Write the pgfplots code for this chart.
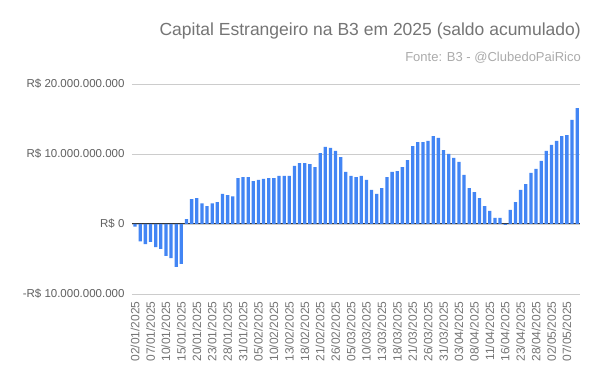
\documentclass[border=0pt]{standalone}
\usepackage{fontspec}
\setmainfont{Liberation Sans}
\usepackage{pgfplots}
\usepackage{pgfplotstable}
\pgfplotsset{compat=1.18}
\definecolor{barblue}{HTML}{4285F4}
\definecolor{titlegray}{HTML}{757575}
\definecolor{subgray}{HTML}{ABABAB}
\definecolor{tickgray}{HTML}{616161}
\definecolor{gridgray}{HTML}{CCCCCC}
\pgfplotstableread{
x y
0 -0.38
1 -2.48
2 -2.86
3 -2.57
4 -3.29
5 -3.57
6 -4.57
7 -4.86
8 -6.14
9 -5.71
10 0.71
11 3.57
12 3.71
13 2.95
14 2.57
15 2.95
16 3.14
17 4.29
18 4.14
19 3.95
20 6.57
21 6.71
22 6.71
23 6.14
24 6.29
25 6.43
26 6.57
27 6.57
28 6.86
29 6.86
30 6.86
31 8.29
32 8.71
33 8.71
34 8.57
35 8.14
36 10.14
37 11.00
38 10.86
39 10.43
40 9.57
41 7.43
42 6.86
43 6.71
44 6.86
45 6.29
46 4.86
47 4.29
48 5.14
49 6.71
50 7.43
51 7.57
52 8.14
53 9.14
54 11.14
55 11.71
56 11.71
57 11.86
58 12.57
59 12.29
60 10.57
61 10.00
62 9.43
63 8.86
64 7.00
65 5.14
66 4.57
67 3.71
68 2.57
69 1.86
70 0.86
71 0.86
72 -0.14
73 2.00
74 3.14
75 4.86
76 5.71
77 7.29
78 7.86
79 9.00
80 10.43
81 11.29
82 11.86
83 12.57
84 12.71
85 14.86
86 16.57
}\datatable
\begin{document}
\begin{tikzpicture}
\path[use as bounding box] (0pt,0pt) rectangle (600pt,385pt);
\fill[white] (0pt,0pt) rectangle (600pt,385pt);
\node[anchor=base east, text=titlegray, inner sep=0pt, font=\fontsize{17.5}{20}\selectfont] at (581pt,349pt) {Capital Estrangeiro na B3 em 2025 (saldo acumulado)};
\node[anchor=base east, text=subgray, inner sep=0pt, font=\fontsize{13}{15}\selectfont] at (581pt,323pt) {Fonte: B3 - @ClubedoPaiRico};
\begin{axis}[
  at={(132pt,91pt)}, anchor=south west,
  scale only axis, width=448pt, height=210pt,
  xmin=-0.6, xmax=86.55,
  ymin=-10, ymax=20,
  axis line style={draw=none},
  major tick length=0pt,
  ytick={-10,0,10,20},
  yticklabels={-R\$ 10.000.000.000, R\$ 0, R\$ 10.000.000.000, R\$ 20.000.000.000},
  yticklabel style={text=tickgray, font=\fontsize{11.5}{13}\selectfont, xshift=-4pt},
  ymajorgrids, grid style={gridgray, line width=0.8pt},
  xtick={0,3,...,84},
  xticklabels={02/01/2025,07/01/2025,10/01/2025,15/01/2025,20/01/2025,23/01/2025,28/01/2025,31/01/2025,05/02/2025,10/02/2025,13/02/2025,18/02/2025,21/02/2025,26/02/2025,05/03/2025,10/03/2025,13/03/2025,18/03/2025,21/03/2025,26/03/2025,31/03/2025,03/04/2025,08/04/2025,11/04/2025,16/04/2025,23/04/2025,28/04/2025,02/05/2025,07/05/2025},
  xticklabel style={rotate=90, anchor=east, text=titlegray, font=\fontsize{12}{14}\selectfont, xshift=-4pt},
  extra y ticks={0},
  extra y tick labels={},
  extra y tick style={grid style={black!80, line width=1pt}},
  clip=false,
]
\addplot[ybar, bar width=0.64, fill=barblue, draw=none] table[x=x,y=y] {\datatable};
\end{axis}
\end{tikzpicture}
\end{document}
